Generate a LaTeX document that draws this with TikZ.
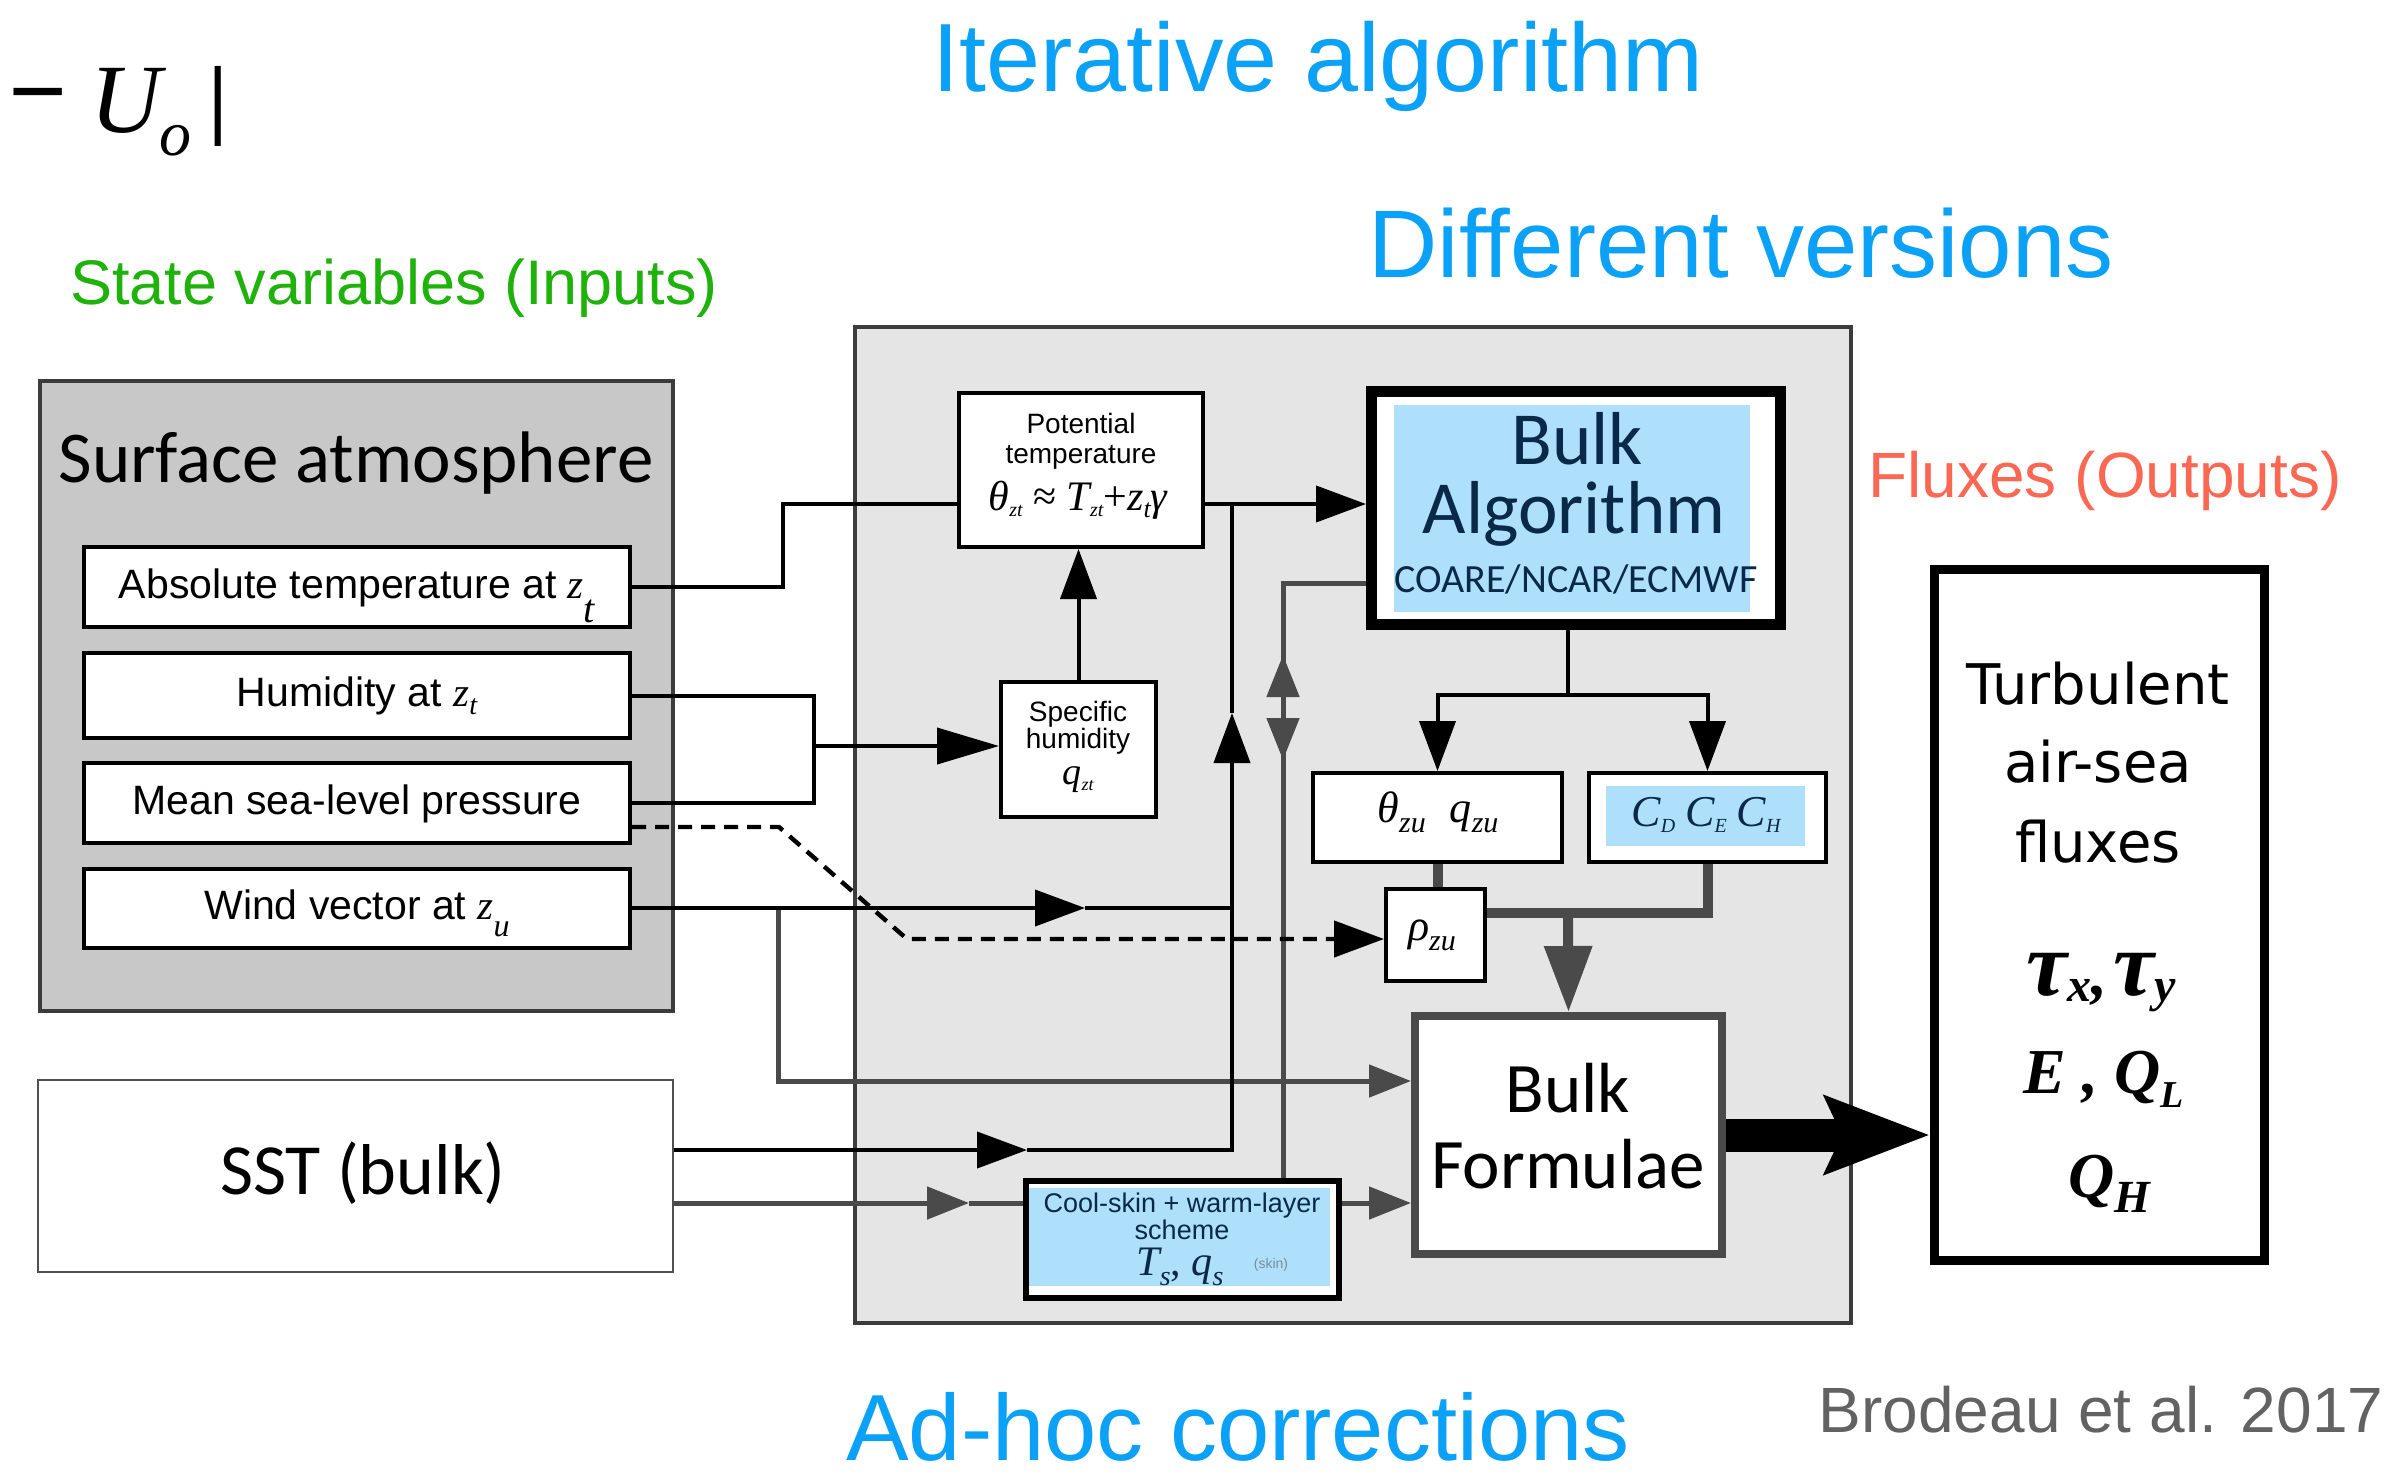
\documentclass[tikz,border=0pt]{standalone}
\usepackage{fontspec}
\setmainfont{Liberation Sans}
\newfontfamily\carl{Carlito}
\newfontfamily\dvs{DejaVu Sans}
\newfontfamily\tms{Liberation Serif}
\usetikzlibrary{arrows.meta}
\newcommand{\fsz}[1]{\fontsize{#1}{#1}\selectfont}
\newcommand{\mi}[1]{{\tms\itshape #1}}
\newcommand{\sbx}[3]{\raisebox{-#2}{\tms\itshape\fsz{#1}#3}}
\definecolor{tblue}{RGB}{10,161,246}
\definecolor{tgreen}{RGB}{30,178,10}
\definecolor{tsalmon}{RGB}{250,104,84}
\definecolor{tgray}{RGB}{98,98,98}
\definecolor{lgray}{RGB}{229,229,229}
\definecolor{mgray}{RGB}{200,200,200}
\definecolor{bordergray}{RGB}{60,60,60}
\definecolor{dgray}{RGB}{74,74,74}
\definecolor{sky}{RGB}{175,224,251}
\definecolor{navy}{RGB}{8,42,72}
\definecolor{skingray}{RGB}{120,140,160}
\definecolor{sstgray}{RGB}{80,80,80}
\begin{document}
\begin{tikzpicture}[x=0.5pt,y=-0.5pt,
  wh/.style 2 args={minimum width=#1*0.5pt, minimum height=#2*0.5pt},
  box/.style={draw=black, line width=2pt, fill=white, inner sep=0pt, text height=15.5pt, text depth=4.5pt},
  fillbox/.style={draw=none, fill=sky, inner sep=0pt},
  txt/.style={inner sep=0pt, outer sep=0pt, anchor=base},
  blk/.style={draw=black, line width=2pt},
  gry/.style={draw=dgray, line width=2.5pt},
  gthick/.style={draw=dgray, line width=5pt},
  tipb/.style={-{Triangle[length=25pt,width=18pt]}},
  tipbl/.style={-{Triangle[length=31pt,width=18pt]}},
  tipg/.style={-{Triangle[length=21pt,width=16pt]}},
  tipgb/.style={-{Triangle[length=33pt,width=23pt]}},
]
\useasboundingbox (0,0) rectangle (2408,1478);

% top-left formula fragment
\node[inner sep=0pt, font=\tms\bfseries\fsz{52pt}] (minus) at (38,107) {−};
\node[txt, font=\tms\itshape\fsz{49pt}] (U) at (126,132) {U};
\node[txt, font=\tms\itshape\fsz{32pt}] (o) at (175,155) {o};
\node[inner sep=0pt, font=\tms\bfseries\fsz{44pt}] (bar) at (218,106) {|};

% titles
\node[txt, font=\fsz{48.5pt}, text=tblue] (iter) at (1318,91) {Iterative algorithm};
\node[txt, font=\fsz{48pt}, text=tblue] (diff) at (1741,277) {Different versions};
\node[txt, font=\fsz{47pt}, text=tblue] (adhoc) at (1238,1460) {Ad-hoc corrections};
\node[txt, font=\fsz{31.5pt}, text=tgreen] (state) at (394,304) {State variables (Inputs)};
\node[txt, font=\fsz{32pt}, text=tsalmon] (fluxes) at (2105,497) {Fluxes (Outputs)};
\node[txt, font=\fsz{32pt}, text=tgray] (brodeau) at (2101,1432) {Brodeau et al. 2017};

% big frames
\node[draw=bordergray, line width=1.75pt, fill=lgray, wh={996}{996}] (main) at (1353,825) {};
\node[draw=bordergray, line width=1.75pt, fill=mgray, wh={633}{630}] (atm) at (356.5,696) {};
\node[txt, font=\carl\fsz{36.5pt}] (atmlabel) at (356,482) {Surface atmosphere};

% input boxes
\node[box, wh={546}{80}, font=\fsz{20.5pt}] (abs) at (357,587) {Absolute temperature at \mi{z}\sbx{20pt}{12pt}{t}};
\node[box, wh={546}{85}, font=\fsz{20.5pt}] (hum) at (357,695.5) {Humidity at \mi{z}\sbx{14pt}{4pt}{t}};
\node[box, wh={546}{80}, font=\fsz{20.5pt}] (msl) at (357,803) {Mean sea-level pressure};
\node[box, wh={546}{79}, font=\fsz{20.5pt}] (wind) at (357,908.5) {Wind vector at \mi{z}\sbx{16pt}{8.5pt}{u}};

\node[draw=sstgray, line width=1.25pt, fill=white, wh={635}{192}] (sst) at (355.5,1176) {};
\node[txt, font=\carl\fsz{36pt}] (sstlabel) at (363,1194) {SST (bulk)};

% potential temperature
\node[box, wh={244}{154}] (pot) at (1081,470) {};
\node[txt, font=\fsz{14pt}] (pot1) at (1081,433) {Potential};
\node[txt, font=\fsz{14pt}] (pot2) at (1081,463) {temperature};
\node[txt, font=\tms\fsz{21pt}] (pot3) at (1078,510) {\mi{θ}\sbx{10pt}{3pt}{zt} ≈ \mi{T}\sbx{10pt}{3pt}{zt}+\mi{z}\sbx{13pt}{3.5pt}{t}\mi{γ}};

% specific humidity
\node[box, wh={155}{135}] (spec) at (1078.5,749.5) {};
\node[txt, font=\fsz{14pt}] (spec1) at (1078,721) {Specific};
\node[txt, font=\fsz{14pt}] (spec2) at (1078,748) {humidity};
\node[txt, font=\tms\fsz{19pt}] (spec3) at (1078,784) {\mi{q}\sbx{9pt}{3pt}{zt}};

% bulk algorithm
\node[draw=black, line width=5.5pt, fill=white, wh={409}{233}] (balg) at (1576,508) {};
\node[fillbox, wh={356}{207}] (balgfill) at (1572,508.5) {};
\node[txt, font=\carl\fsz{37.5pt}, text=navy] (balg1) at (1577,464) {Bulk};
\node[txt, font=\carl\fsz{37.5pt}, text=navy] (balg2) at (1574,533) {Algorithm};
\node[txt, font=\carl\fsz{20pt}, text=navy] (balg3) at (1576,592) {COARE/NCAR/ECMWF};

% theta_zu q_zu, C coefficients, rho
\node[box, wh={249}{89}] (thz) at (1437.5,817.5) {};
\node[txt, font=\tms\fsz{22pt}] (thztxt) at (1438,822) {\mi{θ}\sbx{15pt}{5pt}{zu}\hspace{12pt}\mi{q}\sbx{15pt}{5pt}{zu}};
\node[box, wh={237}{89}] (cbox) at (1707.5,817.5) {};
\node[fillbox, wh={199}{60}] (cfill) at (1705.5,816) {};
\node[txt, font=\tms\fsz{22pt}, text=navy] (ctxt) at (1706,826) {\mi{C}\sbx{10pt}{3pt}{D}\hspace{5pt}\mi{C}\sbx{10pt}{3pt}{E}\hspace{5pt}\mi{C}\sbx{10pt}{3pt}{H}};
\node[box, wh={99}{92}] (rho) at (1435.5,935) {};
\node[txt, font=\tms\fsz{22pt}] (rhotxt) at (1432,940) {\mi{ρ}\sbx{15pt}{5pt}{zu}};

% bulk formulae
\node[draw=dgray, line width=4pt, fill=white, wh={307}{238}] (bf) at (1568.5,1135) {};
\node[txt, font=\carl\fsz{35.5pt}] (bf1) at (1568,1112) {Bulk};
\node[txt, font=\carl\fsz{35.5pt}] (bf2) at (1568,1188) {Formulae};

% cool-skin
\node[draw=black, line width=3.25pt, fill=white, wh={313}{117}] (cool) at (1182.5,1239.5) {};
\node[fillbox, wh={301}{98}] (coolfill) at (1179.5,1237) {};
\node[txt, font=\fsz{13.5pt}, text=navy] (cool1) at (1182,1212) {Cool-skin + warm-layer};
\node[txt, font=\fsz{13.5pt}, text=navy] (cool2) at (1182,1239) {scheme};
\node[txt, font=\tms\fsz{21pt}, text=navy] (cool3) at (1180,1275) {\mi{T}\sbx{14pt}{5pt}{s}, \mi{q}\sbx{14pt}{5pt}{s}};
\node[txt, font=\fsz{7pt}, text=skingray] (skin) at (1271,1268) {(skin)};

% turbulent fluxes
\node[draw=black, line width=4.5pt, fill=white, wh={330}{691}] (turb) at (2099.5,915) {};
\node[txt, font=\dvs\fsz{28pt}] (turb1) at (2098,704) {Turbulent};
\node[txt, font=\dvs\fsz{28pt}] (turb2) at (2098,782) {air-sea};
\node[txt, font=\dvs\fsz{28pt}] (turb3) at (2098,862) {fluxes};
\node[txt, font=\tms\bfseries\itshape] (tau) at (2101,995) {\fsz{46pt}τ\raisebox{-3pt}{\fsz{24pt}x}\fsz{32pt},\hspace{3pt}\fsz{46pt}τ\raisebox{-3pt}{\fsz{24pt}y}};
\node[txt, font=\tms\bfseries\itshape] (eql) at (2104,1093) {\fsz{32pt}E , Q\raisebox{-7pt}{\fsz{19pt}L}};
\node[txt, font=\tms\bfseries\itshape] (qh) at (2109,1197) {\fsz{32pt}Q\raisebox{-7.5pt}{\fsz{23pt}H}};

% coordinates
\coordinate (hj) at (814,746);
\coordinate (wm) at (1085,908);
\coordinate (wj) at (1232,908);
\coordinate (sstm) at (1027,1150);
\coordinate (jn) at (1232,1150);
\coordinate (upt) at (1232,713);
\coordinate (thj) at (1232,504);
\coordinate (gm) at (969,1203);
\coordinate (wb) at (778,908);
\coordinate (bj) at (1568,695);
\coordinate (gj) at (1568,913);
\coordinate (ga) at (1283,583);
\coordinate (gup) at (1283,655);
\coordinate (gdn) at (1283,760);

% connectors: gray
\draw[gry, tipg] (wb) -- (778,1081) -- (bf.west |- 0,1081);
\draw[gry, tipg] (sst.east |- gm) -- (gm);
\draw[gry] (gm) -- (cool.west |- gm);
\draw[gry, tipg] (cool.east |- gm) -- (bf.west |- gm);
\draw[gry, tipg] (balg.west |- ga) -- (ga) -- (gdn);
\draw[gry, tipg] (cool.north -| ga) -- (gup);
\draw[gthick] (thz.south) -- (thz.south |- rho.north);
\draw[gthick] (cbox.south) -- (cbox.south |- gj) -- (rho.east |- gj);
\draw[gthick, tipgb] (gj) -- (bf.north);

% connectors: black
\draw[blk] (abs.east) -| (783,504) -- (pot.west |- 0,504);
\draw[blk] (hum.east) -| (814,803) -- (msl.east);
\draw[blk, tipbl] (hj) -- (spec.west |- hj);
\draw[blk, tipb] (spec.north) -- (spec.north |- pot.south);
\draw[blk, line width=2.2pt, dash pattern=on 7pt off 4.5pt, tipb] (msl.east |- 0,827) -- (779,827) -- (907,939) -- (rho.west |- 0,939);
\draw[blk, tipb] (wind.east |- wm) -- (wm);
\draw[blk] (wm) -- (wj);
\draw[blk, tipb] (sst.east |- sstm) -- (sstm);
\draw[blk, tipb] (sstm) -- (jn) -- (upt);
\draw[blk] (upt) -- (thj);
\draw[blk, tipb] (pot.east |- thj) -- (balg.west |- thj);
\draw[blk] (bj |- balg.south) -- (bj);
\draw[blk, tipb] (bj) -| (thz.north);
\draw[blk, tipb] (bj) -| (cbox.north);
\draw[line width=16.5pt, -{Stealth[length=52pt,width=38pt,inset=8pt]}] (bf.east) -- (turb.west |- bf.east);
\end{tikzpicture}
\end{document}
